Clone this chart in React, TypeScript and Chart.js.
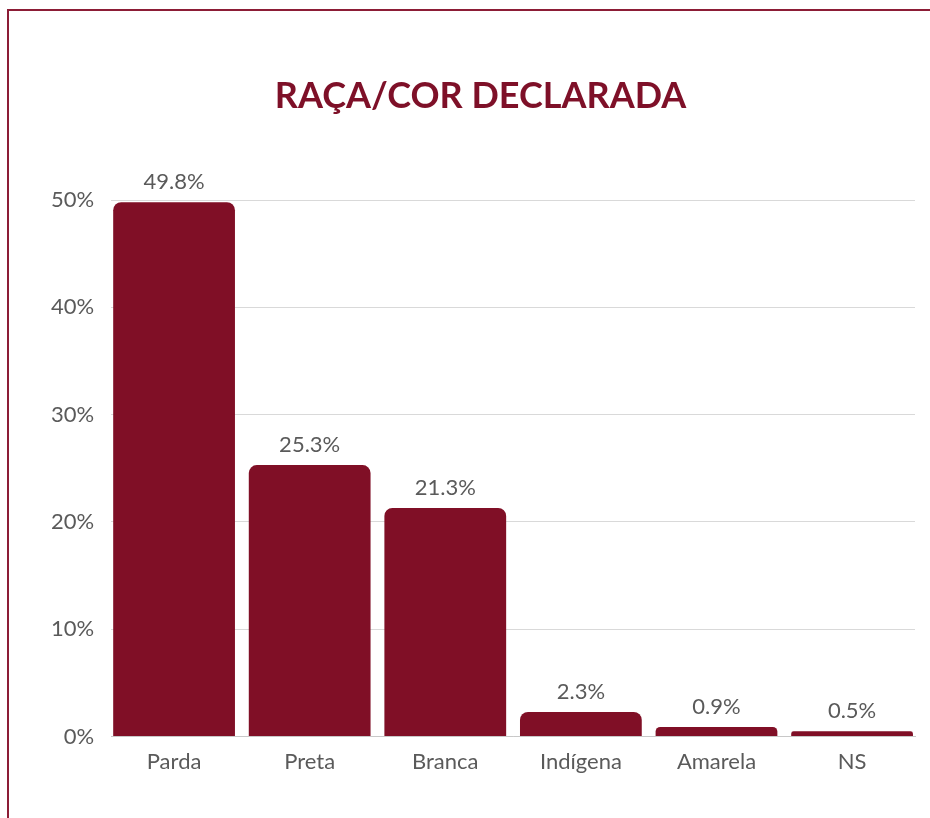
import React, { useEffect, useRef } from "react";
import { Chart, registerables } from "chart.js";

Chart.register(...registerables);

const categories: string[] = ["Parda", "Preta", "Branca", "Indígena", "Amarela", "NS"];
const values: number[] = [49.8, 25.3, 21.3, 2.3, 0.9, 0.5];
const valueLabels: string[] = ["49.8%", "25.3%", "21.3%", "2.3%", "0.9%", "0.5%"];
const yTicks: number[] = [0, 10, 20, 30, 40, 50];
const titleText = "RAÇA/COR DECLARADA";

const BAR = "#800f26";
const TITLE = "#7e1028";
const BORDER = "#8c1d36";
const TEXT = "#5a5a5a";

const valueLabelPlugin = {
  id: "valueLabels",
  afterDatasetsDraw(chart: any) {
    const ctx = chart.ctx;
    const meta = chart.getDatasetMeta(0);
    ctx.save();
    ctx.font = "22px Lato";
    ctx.fillStyle = TEXT;
    ctx.textAlign = "center";
    ctx.textBaseline = "alphabetic";
    meta.data.forEach((bar: any, i: number) => {
      ctx.fillText(valueLabels[i], bar.x, bar.y - 13);
    });
    ctx.restore();
  },
};

const titlePlugin = {
  id: "customTitle",
  afterDraw(chart: any) {
    const ctx = chart.ctx;
    ctx.save();
    ctx.font = "bold 36px Lato";
    ctx.fillStyle = TITLE;
    ctx.textAlign = "center";
    ctx.textBaseline = "alphabetic";
    ctx.fillText(titleText, 480.5, 108);
    ctx.restore();
  },
};

const xRangePlugin = {
  id: "xRange",
  afterLayout(chart: any) {
    const s = chart.scales.x;
    if (s) {
      s._startValue = -0.464;
      s._valueRange = 5.928;
    }
  },
};

export default function App() {
  const ref = useRef<HTMLCanvasElement | null>(null);
  useEffect(() => {
    if (!ref.current) return;
    Chart.defaults.font.family = "Lato";
    const chart = new Chart(ref.current, {
      type: "bar",
      data: {
        labels: categories,
        datasets: [
          {
            data: values,
            backgroundColor: BAR,
            borderRadius: 8,
            borderSkipped: "start",
            categoryPercentage: 1,
            barPercentage: 0.898,
          },
        ],
      },
      options: {
        responsive: false,
        animation: false,
        devicePixelRatio: 1,
        layout: { padding: { top: 200, left: 34, right: 15, bottom: 31 } },
        plugins: {
          legend: { display: false },
          tooltip: { enabled: false },
          title: { display: false },
        },
        scales: {
          x: {
            grid: { display: false, drawTicks: false },
            border: { display: true, color: "#c8c8c8", width: 1 },
            ticks: { color: TEXT, font: { size: 22 }, padding: 12 },
          },
          y: {
            min: 0,
            max: 50,
            afterBuildTicks: (scale: any) => {
              scale.ticks = yTicks.map((v) => ({ value: v }));
            },
            grid: { color: "#d9d9d9", drawTicks: false, lineWidth: 1 },
            border: { display: false },
            ticks: {
              color: TEXT,
              font: { size: 22 },
              padding: 17,
              callback: (v: any) => v + "%",
            },
          },
        },
      },
      plugins: [valueLabelPlugin, titlePlugin, xRangePlugin],
    });
    return () => chart.destroy();
  }, []);

  return (
    <div style={{ position: "absolute", left: 0, top: 0, width: 930, height: 818, overflow: "hidden", background: "#fff" }}>
      <canvas ref={ref} width={930} height={818} style={{ position: "absolute", left: 0, top: 0, width: 930, height: 818 }} />
      <div
        style={{
          position: "absolute",
          left: 7,
          top: 9,
          width: 923,
          height: 809,
          boxSizing: "border-box",
          borderTop: `2px solid ${BORDER}`,
          borderLeft: `2px solid ${BORDER}`,
          pointerEvents: "none",
        }}
      />
    </div>
  );
}
